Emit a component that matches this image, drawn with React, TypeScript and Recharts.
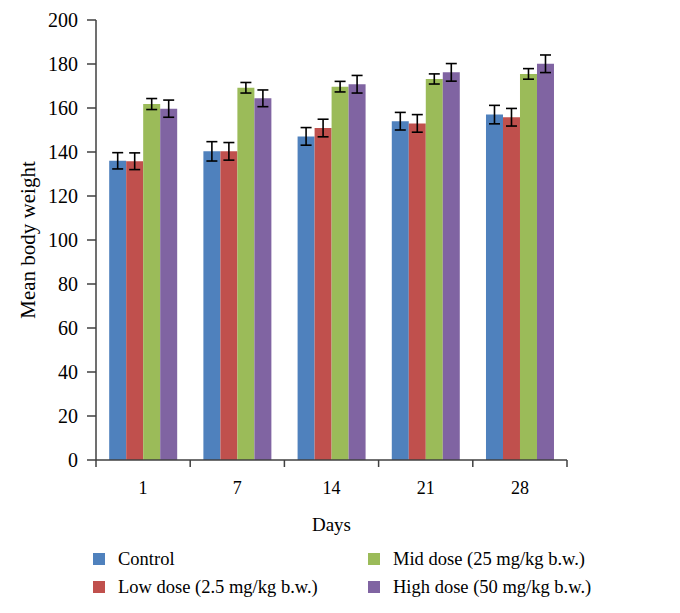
import React from "react";
import { BarChart, Bar, XAxis, YAxis, ErrorBar, Legend } from "recharts";

const days = ["1", "7", "14", "21", "28"];
const control = [136, 140.3, 147.1, 154, 157];
const lowDose = [135.8, 140.3, 150.9, 153, 155.8];
const midDose = [161.8, 169.2, 169.7, 173.2, 175.5];
const highDose = [159.7, 164.4, 170.8, 176.2, 180.1];
const controlErr = [3.7, 4.4, 4, 4, 4.2];
const lowErr = [3.8, 4, 4, 4, 4];
const midErr = [2.5, 2.4, 2.4, 2.3, 2.4];
const highErr = [3.9, 3.8, 4, 4, 4];
const yTicks = [0, 20, 40, 60, 80, 100, 120, 140, 160, 180, 200];

const series = [
  { key: "control", err: "controlErr", name: "Control", color: "#4F81BD" },
  { key: "low", err: "lowErr", name: "Low dose (2.5 mg/kg b.w.)", color: "#C0504D" },
  { key: "mid", err: "midErr", name: "Mid dose (25 mg/kg b.w.)", color: "#9BBB59" },
  { key: "high", err: "highErr", name: "High dose (50 mg/kg b.w.)", color: "#8064A2" },
];

const data = days.map((d, i) => ({
  day: d,
  control: control[i],
  low: lowDose[i],
  mid: midDose[i],
  high: highDose[i],
  controlErr: controlErr[i],
  lowErr: lowErr[i],
  midErr: midErr[i],
  highErr: highErr[i],
}));

const FONT = '"Liberation Serif", "DejaVu Serif", serif';
const AXIS = "#404040";

const DayTick = (props: any) => {
  const { x, y, payload, index, width } = props;
  const half = payload.offset ?? width / days.length / 2;
  const last = index === days.length - 1;
  return (
    <g>
      <line x1={x - half} x2={x - half} y1={y} y2={y + 7} stroke={AXIS} strokeWidth={1.5} />
      {last && <line x1={x + half} x2={x + half} y1={y} y2={y + 7} stroke={AXIS} strokeWidth={1.5} />}
      <text x={x} y={y + 34} textAnchor="middle" fontSize={18} fontFamily={FONT} fill="#000">
        {payload.value}
      </text>
    </g>
  );
};

const YLabel = (props: any) => {
  const { viewBox } = props;
  const cx = viewBox.x + 28;
  const cy = viewBox.y + viewBox.height / 2;
  return (
    <text
      x={cx}
      y={cy}
      transform={`rotate(-90, ${cx}, ${cy})`}
      textAnchor="middle"
      dominantBaseline="central"
      fontSize={21}
      fontFamily={FONT}
      fill="#000"
    >
      Mean body weight
    </text>
  );
};

const LegendGrid = () => {
  const order = [series[0], series[2], series[1], series[3]];
  return (
    <div
      style={{
        height: 56,
        display: "grid",
        gridTemplateColumns: "275px 300px",
        gridAutoRows: "28px",
        paddingLeft: 93,
        fontFamily: FONT,
        fontSize: 18.5,
        color: "#000",
      }}
    >
      {order.map((s) => (
        <div key={s.key} style={{ display: "flex", alignItems: "center", whiteSpace: "nowrap" }}>
          <span style={{ width: 12, height: 12, background: s.color, marginRight: 13, display: "inline-block" }} />
          {s.name}
        </div>
      ))}
    </div>
  );
};

export default function App() {
  return (
    <div style={{ position: "absolute", left: 0, top: 0, background: "#fff" }}>
      <BarChart
        width={680}
        height={613}
        data={data}
        margin={{ top: 20, right: 113, left: 0, bottom: 12 }}
        barCategoryGap="14%"
        barGap={0}
        style={{ fontFamily: FONT }}
      >
        <XAxis
          dataKey="day"
          height={85}
          tickLine={false}
          tickSize={0}
          tickMargin={0}
          axisLine={{ stroke: AXIS, strokeWidth: 1.5 }}
          tick={<DayTick />}
          interval={0}
          label={{ value: "Days", position: "insideBottom", offset: 14, fontSize: 19, fill: "#000", fontFamily: FONT }}
        />
        <YAxis
          width={96}
          domain={[0, 200]}
          ticks={yTicks}
          interval={0}
          tickSize={9}
          tickMargin={9}
          axisLine={{ stroke: AXIS, strokeWidth: 1.5 }}
          tickLine={{ stroke: AXIS, strokeWidth: 1.5 }}
          tick={{ fontSize: 20, fill: "#000", fontFamily: FONT }}
          label={<YLabel />}
        />
        <Legend verticalAlign="bottom" content={<LegendGrid />} wrapperStyle={{ left: 0, width: 680 }} />
        {series.map((s) => (
          <Bar key={s.key} dataKey={s.key} name={s.name} fill={s.color} isAnimationActive={false}>
            <ErrorBar dataKey={s.err} width={5.5} stroke="#000" strokeWidth={1.6} isAnimationActive={false} />
          </Bar>
        ))}
      </BarChart>
    </div>
  );
}
